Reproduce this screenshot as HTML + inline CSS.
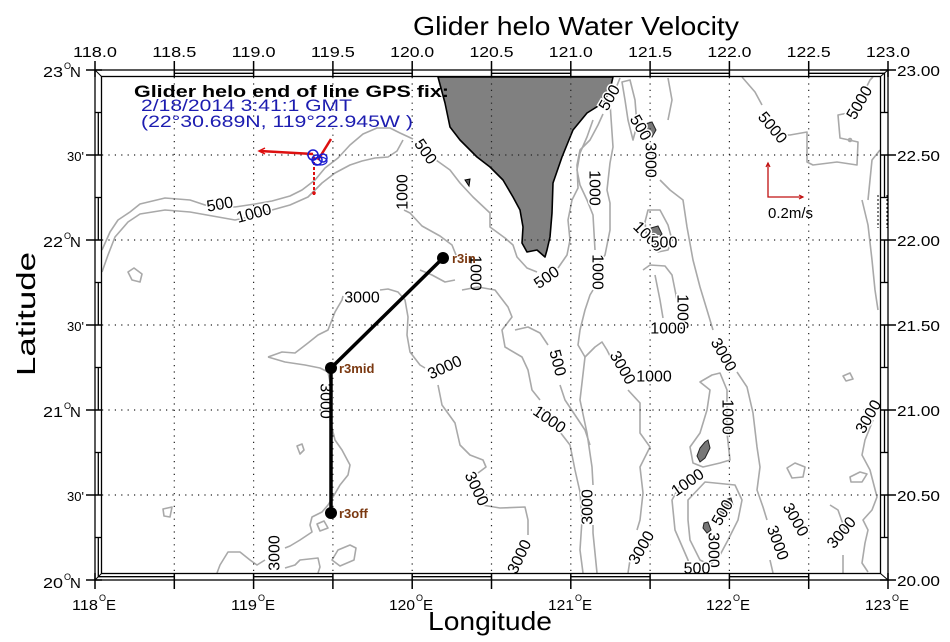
<!DOCTYPE html>
<html><head><meta charset="utf-8"><style>
html,body{margin:0;padding:0;background:#fff;}
svg{display:block;font-family:"Liberation Sans",Arial,sans-serif;}
</style></head><body>
<svg width="950" height="642" viewBox="0 0 950 642" xmlns="http://www.w3.org/2000/svg">
<rect x="0" y="0" width="950" height="642" fill="#fff"/>

<!-- Title -->
<text x="413" y="35" font-size="26" textLength="326" lengthAdjust="spacingAndGlyphs">Glider helo Water Velocity</text>

<!-- contours -->
<g fill="none" stroke="#a9a9a9" stroke-width="1.6" stroke-linejoin="round">
<polyline points="102,250 110,232 118,220 130,212 140,204 165,198 190,200 205,205 235,207 255,204 272,201 290,196 302,190 315,180 325,168 338,158 350,145 363,134 377,128 390,128 400,133 413,139"/>
<polyline points="436,160 450,170 460,183 473,197 490,213 490,227 505,238 513,245 517,257 527,268 537,272"/>
<polyline points="558,268 567,255 570,240 568,220 572,200 578,188 577,165 580,150 590,140 598,125 603,114"/>
<polyline points="616,88 620,78"/>
<polyline points="102,272 108,255 115,237 128,222 140,214 165,210 190,212 235,220 255,216 272,210 290,205 308,197 322,183 335,173 350,165 362,161 375,158 388,157 397,151 403,140"/>
<polyline points="404,210 410,213 422,226 440,236 452,245 456,255"/>
<polyline points="462,290 478,287 495,290 508,307 512,317 502,330 505,347 522,357 528,370 532,390 540,400"/>
<polyline points="560,432 570,445 575,470 580,492 582,520 580,550 583,573"/>
<polyline points="515,330 528,327 540,333 548,345"/>
<polyline points="560,385 565,400 575,415 585,430 590,445"/>
<polyline points="420,270 432,275 445,282 455,280"/>
<!-- 3000 west -->
<polyline points="268,357 282,352 295,353 308,343 318,335 328,330 335,312 342,300 343,296"/>
<polyline points="380,290 388,289 398,292 405,300 408,317 407,335 410,352 420,365 425,368"/>
<polyline points="438,385 442,405 455,423 460,445 470,455 483,460 486,467 478,473"/>
<polyline points="482,505 500,508 525,507 528,520 528,535"/>
<polyline points="268,357 285,362 305,365 320,368 328,372 330,382"/>
<polyline points="330,420 335,440 342,450 350,465 348,475 340,485 333,497 328,505 322,512 312,517 310,525 312,532 300,540 290,546 285,548"/>
<polyline points="265,560 257,565 250,560 240,552 228,552 220,565 217,573"/>
<polyline points="285,568 295,565 300,560 318,558 320,567 318,573"/>
<polygon points="128,272 134,268 142,274 140,282 132,280"/>
<polygon points="297,446 302,444 304,450 300,454"/>
<polygon points="163,509 172,507 170,517 164,516"/>
<polygon points="317,524 324,521 328,528 320,531"/>
<polygon points="332,560 338,550 350,545 356,548 354,560 340,566"/>
<!-- east of Taiwan -->
<polyline points="593,120 587,137 580,153 577,170 580,185 587,200 593,215 595,250"/>
<polyline points="593,290 590,295 585,310 580,330 578,345 585,357 595,347 602,342 607,350 612,360"/>
<polyline points="585,357 580,400 587,433 592,467 593,485"/>
<polyline points="593,525 593,533 597,573"/>
<polyline points="628,390 640,403 640,433 650,447 640,467 643,493 640,520 637,530"/>
<polyline points="630,560 628,573"/>
<polyline points="610,103 613,147 610,163 607,190 610,203 610,230 605,255 600,262"/>
<polygon points="622,82 630,80 635,100 637,125 633,140 628,120 625,100"/>
<polyline points="668,78 672,100 668,120"/>
<polyline points="660,180 670,190 683,200 687,227 693,260 700,287 707,310 713,330"/>
<polyline points="737,372 747,387 753,413 757,447 760,467 757,490 763,507 767,520"/>
<polyline points="770,560 773,573"/>
<polygon points="648,210 645,222 647,240 658,252 668,250 672,240 668,225 660,210"/>
<polyline points="643,270 650,265 665,266 672,275 677,300 680,312"/>
<polyline points="655,275 660,300 663,318"/>
<polygon points="700,382 712,375 720,373 727,390 727,433 730,460 720,463 703,467 693,463 690,447 700,433 707,410 710,390"/>
<polygon points="688,500 705,482 735,485 742,500 738,520 728,540 720,555 710,565 700,560 690,540 688,520"/>
<polyline points="683,480 672,500 675,530 688,560 690,573"/>
<polygon points="787,468 795,463 805,467 803,477 792,478"/>
<polygon points="850,477 860,472 867,474 862,482 851,482"/>
<polygon points="843,376 850,373 853,379 846,381"/>
<polyline points="830,505 838,510 845,530"/>
<polyline points="843,555 843,573"/>
<polyline points="873,420 865,440 862,455 870,470 877,497 872,510 863,520 868,530 865,543 862,563 868,572"/>
<polyline points="862,200 868,225 872,260 875,290 878,310"/>
<polyline points="880,150 872,160 870,180 868,200"/>
<!-- 5000 -->
<polyline points="742,77 755,92 762,105"/>
<polyline points="785,135 790,135 807,132 807,162 813,165 837,162 857,165 858,142 840,138 838,115 848,113"/>
<polyline points="866,88 870,80 873,77"/>
<circle cx="850" cy="140" r="1.5"/>
</g>

<!-- land -->
<polygon fill="#808080" stroke="#000" stroke-width="1.6" stroke-linejoin="round" points="438,77 445,103 450,127 460,140 477,157 490,167 503,180 513,197 520,210 523,227 522,243 527,252 537,250 545,257 547,250 550,237 552,213 553,183 562,157 573,130 587,113 603,103 610,90 613,77"/>
<polygon fill="#555" stroke="#000" stroke-width="1" points="465,180 470,179 469,186"/>
<polygon fill="#777" stroke="#222" stroke-width="1" points="645,124 652,122 656,130 652,137 647,133"/>
<polygon fill="#777" stroke="#222" stroke-width="1" points="651,228 658,226 662,234 656,240 650,236"/>
<polygon fill="#777" stroke="#222" stroke-width="1" points="705,442 708,440 710,448 705,458 700,462 697,456 700,448"/>
<polygon fill="#777" stroke="#222" stroke-width="1" points="725,500 731,498 733,505 725,512 720,518 717,512"/>
<polygon fill="#777" stroke="#222" stroke-width="1" points="704,523 708,522 711,530 707,533 703,528"/>

<!-- gridlines -->
<g stroke="#222" stroke-width="1.2" stroke-dasharray="1.2 5.2">
<line x1="174.3" y1="77" x2="174.3" y2="573"/>
<line x1="253.6" y1="77" x2="253.6" y2="573"/>
<line x1="332.9" y1="77" x2="332.9" y2="573"/>
<line x1="412.2" y1="77" x2="412.2" y2="573"/>
<line x1="491.5" y1="77" x2="491.5" y2="573"/>
<line x1="570.8" y1="77" x2="570.8" y2="573"/>
<line x1="650.1" y1="77" x2="650.1" y2="573"/>
<line x1="729.4" y1="77" x2="729.4" y2="573"/>
<line x1="808.7" y1="77" x2="808.7" y2="573"/>
<line x1="102" y1="155" x2="880" y2="155"/>
<line x1="102" y1="240" x2="880" y2="240"/>
<line x1="102" y1="325" x2="880" y2="325"/>
<line x1="102" y1="410" x2="880" y2="410"/>
<line x1="102" y1="495" x2="880" y2="495"/>
</g>

<!-- contour labels -->
<g font-size="16" fill="#000" text-anchor="middle" dominant-baseline="central" stroke="#fff" stroke-width="3" paint-order="stroke">
<text transform="translate(220,205) rotate(-10)">500</text>
<text transform="translate(254,214) rotate(-15)">1000</text>
<text transform="translate(425,152) rotate(55)">500</text>
<text transform="translate(403,192) rotate(-90)">1000</text>
<text transform="translate(362,298)">3000</text>
<text transform="translate(547,278) rotate(-35)">500</text>
<text transform="translate(445,368) rotate(-25)">3000</text>
<text transform="translate(325,401) rotate(90)">3000</text>
<text transform="translate(557,363) rotate(75)">500</text>
<text transform="translate(549,420) rotate(35)">1000</text>
<text transform="translate(476,489) rotate(65)">3000</text>
<text transform="translate(275,553) rotate(-90)">3000</text>
<text transform="translate(520,557) rotate(-65)">3000</text>
<text transform="translate(594,188) rotate(90)">1000</text>
<text transform="translate(597,272) rotate(90)">1000</text>
<text transform="translate(610,98) rotate(-60)">500</text>
<text transform="translate(640,128) rotate(60)">500</text>
<text transform="translate(650,160) rotate(90)">3000</text>
<text transform="translate(772,128) rotate(50)">5000</text>
<text transform="translate(860,103) rotate(-60)">5000</text>
<text transform="translate(648,237) rotate(45)">1000</text>
<text transform="translate(664,243)">500</text>
<text transform="translate(682,312) rotate(90)">1000</text>
<text transform="translate(668,329)">1000</text>
<text transform="translate(723,355) rotate(60)">3000</text>
<text transform="translate(622,368) rotate(60)">3000</text>
<text transform="translate(654,377)">1000</text>
<text transform="translate(727,417) rotate(90)">1000</text>
<text transform="translate(688,483) rotate(-35)">1000</text>
<text transform="translate(588,507) rotate(-90)">3000</text>
<text transform="translate(642,548) rotate(-60)">3000</text>
<text transform="translate(723,513) rotate(-60)">500</text>
<text transform="translate(713,550) rotate(90)">3000</text>
<text transform="translate(697,569)">500</text>
<text transform="translate(795,520) rotate(60)">3000</text>
<text transform="translate(777,543) rotate(70)">3000</text>
<text transform="translate(842,533) rotate(-50)">3000</text>
<text transform="translate(869,417) rotate(-60)">3000</text>
</g>

<!-- track -->
<polyline points="443,258 331,368 331,513" fill="none" stroke="#000" stroke-width="3.5" stroke-linejoin="round"/>
<circle cx="443" cy="258" r="6" fill="#000"/>
<circle cx="331" cy="368" r="6" fill="#000"/>
<circle cx="331" cy="513" r="6" fill="#000"/>
<text transform="translate(475,273) rotate(90)" font-size="16" text-anchor="middle" dominant-baseline="central">1000</text>
<g font-size="13" font-weight="bold" fill="#7a3810">
<text x="452" y="263">r3in</text>
<text x="339" y="373">r3mid</text>
<text x="339" y="518">r3off</text>
</g>

<!-- glider vectors -->
<g fill="none">
<line x1="313" y1="154" x2="260" y2="151" stroke="#dd1010" stroke-width="2.5"/>
<polyline points="265,148 259,151 265,154" stroke="#dd1010" stroke-width="1.5"/>
<line x1="318" y1="160" x2="331" y2="139" stroke="#dd1010" stroke-width="2.5"/>
<line x1="314" y1="157" x2="314" y2="195" stroke="#dd1010" stroke-width="2" stroke-dasharray="3 2"/>
<circle cx="314" cy="193" r="1.8" fill="#dd1010"/>
<circle cx="313" cy="155" r="5" stroke="#1a1ad0" stroke-width="1.5"/>
<circle cx="317" cy="160" r="5" stroke="#1a1ad0" stroke-width="1.5"/>
<circle cx="323" cy="158" r="4" stroke="#1a1ad0" stroke-width="1.5"/>
<ellipse cx="320" cy="161" rx="7" ry="4" stroke="#1a1ad0" stroke-width="1.2"/>
</g>

<!-- GPS fix text -->
<text x="134" y="97" font-size="17" font-weight="bold" textLength="315" lengthAdjust="spacingAndGlyphs">Glider helo end of line GPS fix:</text>
<text x="141" y="111" font-size="17" fill="#1c1cb0" textLength="211" lengthAdjust="spacingAndGlyphs">2/18/2014 3:41:1 GMT</text>
<text x="141" y="127" font-size="17" fill="#1c1cb0" textLength="272" lengthAdjust="spacingAndGlyphs">(22°30.689N, 119°22.945W )</text>

<!-- velocity scale -->
<polyline points="768,163 768,197 803,197" fill="none" stroke="#c01010" stroke-width="1.3"/>
<polyline points="799,195 803,197 799,199" fill="none" stroke="#c01010" stroke-width="1.2"/>
<polyline points="766,167 768,163 770,167" fill="none" stroke="#c01010" stroke-width="1.2"/>
<text x="768" y="218" font-size="15">0.2m/s</text>

<!-- right edge tiny marks -->
<g stroke="#000" stroke-width="1" stroke-dasharray="2 2">
<line x1="878" y1="195" x2="878" y2="228"/>
<line x1="887" y1="195" x2="887" y2="228"/>
</g>

<!-- frame -->
<g fill="none" stroke="#000">
<rect x="95" y="70" width="793" height="510" stroke-width="1.3"/>
<rect x="101.5" y="76.5" width="779" height="497" stroke-width="1.3"/>
<line x1="95" y1="70" x2="101.5" y2="76.5" stroke-width="1"/>
<line x1="888" y1="70" x2="880.5" y2="76.5" stroke-width="1"/>
<line x1="95" y1="580" x2="101.5" y2="573.5" stroke-width="1"/>
<line x1="888" y1="580" x2="880.5" y2="573.5" stroke-width="1"/>
<g stroke-width="1.3">
<line x1="174.3" y1="73.3" x2="253.6" y2="73.3"/>
<line x1="332.9" y1="73.3" x2="412.2" y2="73.3"/>
<line x1="491.5" y1="73.3" x2="570.8" y2="73.3"/>
<line x1="650.1" y1="73.3" x2="729.4" y2="73.3"/>
<line x1="808.7" y1="73.3" x2="885" y2="73.3"/>
<line x1="98" y1="576.7" x2="174.3" y2="576.7"/>
<line x1="253.6" y1="576.7" x2="332.9" y2="576.7"/>
<line x1="412.2" y1="576.7" x2="491.5" y2="576.7"/>
<line x1="570.8" y1="576.7" x2="650.1" y2="576.7"/>
<line x1="729.4" y1="576.7" x2="808.7" y2="576.7"/>
<line x1="98.3" y1="112.5" x2="98.3" y2="155"/>
<line x1="98.3" y1="197.5" x2="98.3" y2="240"/>
<line x1="98.3" y1="282.5" x2="98.3" y2="325"/>
<line x1="98.3" y1="367.5" x2="98.3" y2="410"/>
<line x1="98.3" y1="452.5" x2="98.3" y2="495"/>
<line x1="98.3" y1="537.5" x2="98.3" y2="577"/>
<line x1="884.5" y1="73" x2="884.5" y2="112.5"/>
<line x1="884.5" y1="155" x2="884.5" y2="197.5"/>
<line x1="884.5" y1="240" x2="884.5" y2="282.5"/>
<line x1="884.5" y1="325" x2="884.5" y2="367.5"/>
<line x1="884.5" y1="410" x2="884.5" y2="452.5"/>
<line x1="884.5" y1="495" x2="884.5" y2="537.5"/>
</g>
<g stroke-width="1.3">
<!-- end caps of bands -->
<line x1="95" y1="112.5" x2="101.5" y2="112.5"/>
<line x1="95" y1="197.5" x2="101.5" y2="197.5"/>
<line x1="95" y1="282.5" x2="101.5" y2="282.5"/>
<line x1="95" y1="367.5" x2="101.5" y2="367.5"/>
<line x1="95" y1="452.5" x2="101.5" y2="452.5"/>
<line x1="95" y1="537.5" x2="101.5" y2="537.5"/>
<line x1="880.5" y1="112.5" x2="888" y2="112.5"/>
<line x1="880.5" y1="197.5" x2="888" y2="197.5"/>
<line x1="880.5" y1="282.5" x2="888" y2="282.5"/>
<line x1="880.5" y1="367.5" x2="888" y2="367.5"/>
<line x1="880.5" y1="452.5" x2="888" y2="452.5"/>
<line x1="880.5" y1="537.5" x2="888" y2="537.5"/>
</g>
<!-- ticks top/bottom -->
<g stroke-width="1.5">
<line x1="95" y1="61" x2="95" y2="77"/><line x1="174.3" y1="61" x2="174.3" y2="77"/><line x1="253.6" y1="61" x2="253.6" y2="77"/><line x1="332.9" y1="61" x2="332.9" y2="77"/><line x1="412.2" y1="61" x2="412.2" y2="77"/><line x1="491.5" y1="61" x2="491.5" y2="77"/><line x1="570.8" y1="61" x2="570.8" y2="77"/><line x1="650.1" y1="61" x2="650.1" y2="77"/><line x1="729.4" y1="61" x2="729.4" y2="77"/><line x1="808.7" y1="61" x2="808.7" y2="77"/><line x1="888" y1="61" x2="888" y2="77"/>
<line x1="95" y1="573" x2="95" y2="589"/><line x1="174.3" y1="573" x2="174.3" y2="589"/><line x1="253.6" y1="573" x2="253.6" y2="589"/><line x1="332.9" y1="573" x2="332.9" y2="589"/><line x1="412.2" y1="573" x2="412.2" y2="589"/><line x1="491.5" y1="573" x2="491.5" y2="589"/><line x1="570.8" y1="573" x2="570.8" y2="589"/><line x1="650.1" y1="573" x2="650.1" y2="589"/><line x1="729.4" y1="573" x2="729.4" y2="589"/><line x1="808.7" y1="573" x2="808.7" y2="589"/><line x1="888" y1="573" x2="888" y2="589"/>
<line x1="86" y1="70" x2="102" y2="70"/><line x1="86" y1="155" x2="102" y2="155"/><line x1="86" y1="240" x2="102" y2="240"/><line x1="86" y1="325" x2="102" y2="325"/><line x1="86" y1="410" x2="102" y2="410"/><line x1="86" y1="495" x2="102" y2="495"/><line x1="86" y1="580" x2="102" y2="580"/>
<line x1="880" y1="70" x2="896" y2="70"/><line x1="880" y1="155" x2="896" y2="155"/><line x1="880" y1="240" x2="896" y2="240"/><line x1="880" y1="325" x2="896" y2="325"/><line x1="880" y1="410" x2="896" y2="410"/><line x1="880" y1="495" x2="896" y2="495"/><line x1="880" y1="580" x2="896" y2="580"/>
</g>
</g>

<!-- top labels -->
<g font-size="15" text-anchor="middle">
<text x="95" y="57" textLength="44" lengthAdjust="spacingAndGlyphs">118.0</text>
<text x="174.3" y="57" textLength="44" lengthAdjust="spacingAndGlyphs">118.5</text>
<text x="253.6" y="57" textLength="44" lengthAdjust="spacingAndGlyphs">119.0</text>
<text x="332.9" y="57" textLength="44" lengthAdjust="spacingAndGlyphs">119.5</text>
<text x="412.2" y="57" textLength="44" lengthAdjust="spacingAndGlyphs">120.0</text>
<text x="491.5" y="57" textLength="44" lengthAdjust="spacingAndGlyphs">120.5</text>
<text x="570.8" y="57" textLength="44" lengthAdjust="spacingAndGlyphs">121.0</text>
<text x="650.1" y="57" textLength="44" lengthAdjust="spacingAndGlyphs">121.5</text>
<text x="729.4" y="57" textLength="44" lengthAdjust="spacingAndGlyphs">122.0</text>
<text x="808.7" y="57" textLength="44" lengthAdjust="spacingAndGlyphs">122.5</text>
<text x="888" y="57" textLength="44" lengthAdjust="spacingAndGlyphs">123.0</text>
</g>

<!-- right labels -->
<g font-size="15">
<text x="897" y="76" textLength="43" lengthAdjust="spacingAndGlyphs">23.00</text>
<text x="897" y="161" textLength="43" lengthAdjust="spacingAndGlyphs">22.50</text>
<text x="897" y="246" textLength="43" lengthAdjust="spacingAndGlyphs">22.00</text>
<text x="897" y="331" textLength="43" lengthAdjust="spacingAndGlyphs">21.50</text>
<text x="897" y="416" textLength="43" lengthAdjust="spacingAndGlyphs">21.00</text>
<text x="897" y="501" textLength="43" lengthAdjust="spacingAndGlyphs">20.50</text>
<text x="897" y="586" textLength="43" lengthAdjust="spacingAndGlyphs">20.00</text>
</g>

<!-- left labels -->
<g font-size="15">
<text x="43" y="77" textLength="20" lengthAdjust="spacingAndGlyphs">23</text><text x="64" y="69" font-size="9">O</text><text x="70" y="77">N</text>
<text x="43" y="247" textLength="20" lengthAdjust="spacingAndGlyphs">22</text><text x="64" y="239" font-size="9">O</text><text x="70" y="247">N</text>
<text x="43" y="417" textLength="20" lengthAdjust="spacingAndGlyphs">21</text><text x="64" y="409" font-size="9">O</text><text x="70" y="417">N</text>
<text x="43" y="588" textLength="20" lengthAdjust="spacingAndGlyphs">20</text><text x="64" y="580" font-size="9">O</text><text x="70" y="588">N</text>
</g>
<g font-size="13" text-anchor="end">
<text x="84" y="161">30'</text>
<text x="84" y="331">30'</text>
<text x="84" y="501">30'</text>
</g>

<!-- bottom labels -->
<g font-size="15">
<text x="72" y="610" textLength="26" lengthAdjust="spacingAndGlyphs">118</text><text x="99" y="601" font-size="9">O</text><text x="106" y="610">E</text>
<text x="231" y="610" textLength="26" lengthAdjust="spacingAndGlyphs">119</text><text x="258" y="601" font-size="9">O</text><text x="265" y="610">E</text>
<text x="389" y="610" textLength="26" lengthAdjust="spacingAndGlyphs">120</text><text x="416" y="601" font-size="9">O</text><text x="423" y="610">E</text>
<text x="548" y="610" textLength="26" lengthAdjust="spacingAndGlyphs">121</text><text x="575" y="601" font-size="9">O</text><text x="582" y="610">E</text>
<text x="706" y="610" textLength="26" lengthAdjust="spacingAndGlyphs">122</text><text x="733" y="601" font-size="9">O</text><text x="740" y="610">E</text>
<text x="865" y="610" textLength="26" lengthAdjust="spacingAndGlyphs">123</text><text x="892" y="601" font-size="9">O</text><text x="899" y="610">E</text>
</g>

<!-- axis titles -->
<text x="428" y="630" font-size="26" textLength="124" lengthAdjust="spacingAndGlyphs">Longitude</text>
<text transform="translate(35,376) rotate(-90)" font-size="26" textLength="124" lengthAdjust="spacingAndGlyphs">Latitude</text>
</svg>
</body></html>
